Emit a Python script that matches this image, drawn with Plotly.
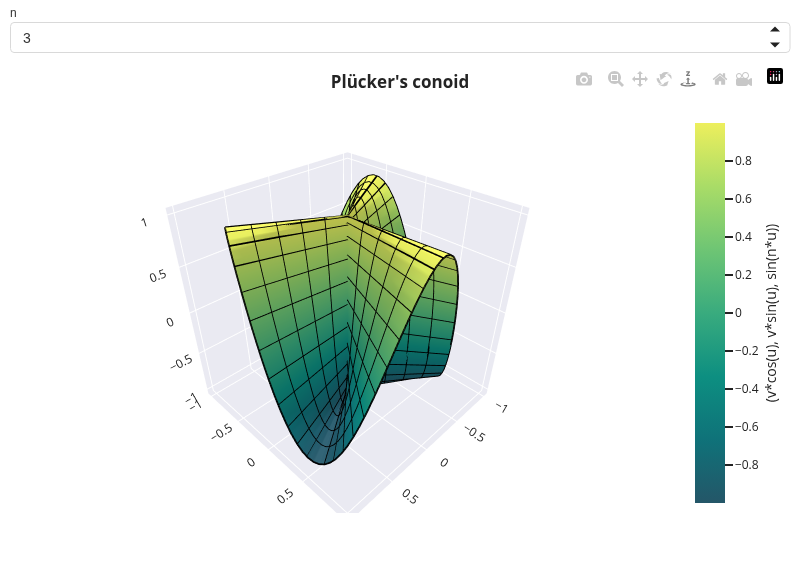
import numpy as np
import plotly.graph_objects as go

TITLE = "Plücker's conoid"
COLORBAR_TITLE = "(v*cos(u), v*sin(u), sin(n*u))"
INPUT_LABEL = "n"
INPUT_VALUE = "3"

# Table read at 3 degree steps of u, 0..360
cos_u = [1.0,.9986,.9945,.9877,.9781,.9659,.9511,.9336,.9135,.891,.866,.8387,.809,.7771,.7431,.7071,.6691,.6293,.5878,.5446,.5,.454,.4067,.3584,.309,.2588,.2079,.1564,.1045,.0523,
0.0,-.0523,-.1045,-.1564,-.2079,-.2588,-.309,-.3584,-.4067,-.454,-.5,-.5446,-.5878,-.6293,-.6691,-.7071,-.7431,-.7771,-.809,-.8387,-.866,-.891,-.9135,-.9336,-.9511,-.9659,-.9781,-.9877,-.9945,-.9986,
-1.0,-.9986,-.9945,-.9877,-.9781,-.9659,-.9511,-.9336,-.9135,-.891,-.866,-.8387,-.809,-.7771,-.7431,-.7071,-.6691,-.6293,-.5878,-.5446,-.5,-.454,-.4067,-.3584,-.309,-.2588,-.2079,-.1564,-.1045,-.0523,
0.0,.0523,.1045,.1564,.2079,.2588,.309,.3584,.4067,.454,.5,.5446,.5878,.6293,.6691,.7071,.7431,.7771,.809,.8387,.866,.891,.9135,.9336,.9511,.9659,.9781,.9877,.9945,.9986,1.0]
sin_u = [0.0,.0523,.1045,.1564,.2079,.2588,.309,.3584,.4067,.454,.5,.5446,.5878,.6293,.6691,.7071,.7431,.7771,.809,.8387,.866,.891,.9135,.9336,.9511,.9659,.9781,.9877,.9945,.9986,
1.0,.9986,.9945,.9877,.9781,.9659,.9511,.9336,.9135,.891,.866,.8387,.809,.7771,.7431,.7071,.6691,.6293,.5878,.5446,.5,.454,.4067,.3584,.309,.2588,.2079,.1564,.1045,.0523,
0.0,-.0523,-.1045,-.1564,-.2079,-.2588,-.309,-.3584,-.4067,-.454,-.5,-.5446,-.5878,-.6293,-.6691,-.7071,-.7431,-.7771,-.809,-.8387,-.866,-.891,-.9135,-.9336,-.9511,-.9659,-.9781,-.9877,-.9945,-.9986,
-1.0,-.9986,-.9945,-.9877,-.9781,-.9659,-.9511,-.9336,-.9135,-.891,-.866,-.8387,-.809,-.7771,-.7431,-.7071,-.6691,-.6293,-.5878,-.5446,-.5,-.454,-.4067,-.3584,-.309,-.2588,-.2079,-.1564,-.1045,-.0523,0.0]
sin_nu = [0.0,.1564,.309,.454,.5878,.7071,.809,.891,.9511,.9877,1.0,.9877,.9511,.891,.809,.7071,.5878,.454,.309,.1564,0.0,-.1564,-.309,-.454,-.5878,-.7071,-.809,-.891,-.9511,-.9877,-1.0,-.9877,-.9511,-.891,-.809,-.7071,-.5878,-.454,-.309,-.1564,
0.0,.1564,.309,.454,.5878,.7071,.809,.891,.9511,.9877,1.0,.9877,.9511,.891,.809,.7071,.5878,.454,.309,.1564,0.0,-.1564,-.309,-.454,-.5878,-.7071,-.809,-.891,-.9511,-.9877,-1.0,-.9877,-.9511,-.891,-.809,-.7071,-.5878,-.454,-.309,-.1564,
0.0,.1564,.309,.454,.5878,.7071,.809,.891,.9511,.9877,1.0,.9877,.9511,.891,.809,.7071,.5878,.454,.309,.1564,0.0,-.1564,-.309,-.454,-.5878,-.7071,-.809,-.891,-.9511,-.9877,-1.0,-.9877,-.9511,-.891,-.809,-.7071,-.5878,-.454,-.309,-.1564,0.0]
v_values = [-1.0,-.95,-.9,-.85,-.8,-.75,-.7,-.65,-.6,-.55,-.5,-.45,-.4,-.35,-.3,-.25,-.2,-.15,-.1,-.05,0.0]

# Wireframe rulings, read at u = 3, 8, 13, ... 358 degrees
wire_cos = [.9986,.9903,.9744,.9511,.9205,.8829,.8387,.788,.7314,.6691,.6018,.5299,.454,.3746,.2924,.2079,.1219,.0349,
-.0523,-.1392,-.225,-.309,-.3907,-.4695,-.5446,-.6157,-.682,-.7431,-.7986,-.848,-.891,-.9272,-.9563,-.9781,-.9925,-.9994,
-.9986,-.9903,-.9744,-.9511,-.9205,-.8829,-.8387,-.788,-.7314,-.6691,-.6018,-.5299,-.454,-.3746,-.2924,-.2079,-.1219,-.0349,
.0523,.1392,.225,.309,.3907,.4695,.5446,.6157,.682,.7431,.7986,.848,.891,.9272,.9563,.9781,.9925,.9994]
wire_sin = [.0523,.1392,.225,.309,.3907,.4695,.5446,.6157,.682,.7431,.7986,.848,.891,.9272,.9563,.9781,.9925,.9994,
.9986,.9903,.9744,.9511,.9205,.8829,.8387,.788,.7314,.6691,.6018,.5299,.454,.3746,.2924,.2079,.1219,.0349,
-.0523,-.1392,-.225,-.309,-.3907,-.4695,-.5446,-.6157,-.682,-.7431,-.7986,-.848,-.891,-.9272,-.9563,-.9781,-.9925,-.9994,
-.9986,-.9903,-.9744,-.9511,-.9205,-.8829,-.8387,-.788,-.7314,-.6691,-.6018,-.5299,-.454,-.3746,-.2924,-.2079,-.1219,-.0349]
wire_z = [.1564,.4067,.6293,.809,.9336,.9945,.9877,.9135,.7771,.5878,.3584,.1045,-.1564,-.4067,-.6293,-.809,-.9336,-.9945,-.9877,-.9135,-.7771,-.5878,-.3584,-.1045,
.1564,.4067,.6293,.809,.9336,.9945,.9877,.9135,.7771,.5878,.3584,.1045,-.1564,-.4067,-.6293,-.809,-.9336,-.9945,-.9877,-.9135,-.7771,-.5878,-.3584,-.1045,
.1564,.4067,.6293,.809,.9336,.9945,.9877,.9135,.7771,.5878,.3584,.1045,-.1564,-.4067,-.6293,-.809,-.9336,-.9945,-.9877,-.9135,-.7771,-.5878,-.3584,-.1045]
wire_v_ends = [-1.0, 0.0]

V_STEP = 4

cu, su, zu, vv = map(np.array, (cos_u, sin_u, sin_nu, v_values))
X = np.outer(vv, cu)
Y = np.outer(vv, su)
Z = np.outer(np.ones_like(vv), zu)

fig = go.Figure()
fig.add_trace(go.Surface(
    x=X, y=Y, z=Z, surfacecolor=Z, colorscale="Aggrnyl", cmin=-0.999, cmax=0.999,
    showscale=True,
    colorbar=dict(title=dict(text=COLORBAR_TITLE, side="right"), thickness=30,
                  x=1.0, xpad=0, xanchor="left", len=1, ypad=10, tick0=0, dtick=0.2),
))
for c, s, z in zip(wire_cos, wire_sin, wire_z):
    fig.add_trace(go.Scatter3d(x=[e * c for e in wire_v_ends], y=[e * s for e in wire_v_ends], z=[z, z],
                               mode="lines", line=dict(color="black", width=3.5),
                               showlegend=False, hoverinfo="skip"))
for i in range(0, len(v_values), V_STEP):
    fig.add_trace(go.Scatter3d(x=X[i], y=Y[i], z=Z[i], mode="lines",
                               line=dict(color="black", width=3.5), showlegend=False, hoverinfo="skip"))

W = 695.0
def px(x): return x / W
def py(y): return (513.0 - y) / 400.0

fig.update_layout(
    template="seaborn", width=800, height=575, autosize=False,
    margin=dict(l=0, r=105, t=113, b=62),
    title=dict(text="<b>" + TITLE + "</b>", x=0.5, xref="container", xanchor="center",
               y=1 - 82 / 575, yanchor="middle", font=dict(size=17)),
    showlegend=False,
    scene=dict(xaxis=dict(title=""), yaxis=dict(title=""), zaxis=dict(title=""),
               domain=dict(x=[0, 1], y=[0, 1])),
    annotations=[
        dict(text=INPUT_LABEL, xref="paper", yref="paper", x=px(8), y=py(12.5), xanchor="left", yanchor="middle",
             showarrow=False, font=dict(family="Liberation Sans", size=12, color="#333333")),
        dict(text=INPUT_VALUE, xref="paper", yref="paper", x=px(21), y=py(37.5), xanchor="left", yanchor="middle",
             showarrow=False, font=dict(family="Liberation Sans", size=14, color="#333333")),
    ],
    shapes=[
        dict(type="path", xref="paper", yref="paper", fillcolor="rgba(0,0,0,0)", line=dict(color="#b4b4b4", width=1),
             path=f"M {px(14)} {py(22.5)} L {px(786)} {py(22.5)} Q {px(790)} {py(22.5)} {px(790)} {py(26.5)} "
                  f"L {px(790)} {py(48.5)} Q {px(790)} {py(52.5)} {px(786)} {py(52.5)} L {px(14)} {py(52.5)} "
                  f"Q {px(10.5)} {py(52.5)} {px(10.5)} {py(48.5)} L {px(10.5)} {py(26.5)} Q {px(10.5)} {py(22.5)} {px(14)} {py(22.5)} Z"),
        dict(type="path", xref="paper", yref="paper", fillcolor="#222222", opacity=1, line=dict(width=0),
             path=f"M {px(770)} {py(31.5)} L {px(780)} {py(31.5)} L {px(775)} {py(26.5)} Z"),
        dict(type="path", xref="paper", yref="paper", fillcolor="#222222", opacity=1, line=dict(width=0),
             path=f"M {px(770)} {py(42.5)} L {px(780)} {py(42.5)} L {px(775)} {py(47.5)} Z"),
    ],
)

fig.write_html("out.html", config=dict(displayModeBar=True),
               post_script="var s=document.createElement('style');"
                           "s.textContent='body{margin:0;overflow:hidden} .modebar-container{top:63px !important}"
                           " .modebar{right:13px !important}"
                           " .modebar-btn{top:3px;left:1px} .modebar-btn--logo{top:0;left:0}';"
                           "document.head.appendChild(s);")
